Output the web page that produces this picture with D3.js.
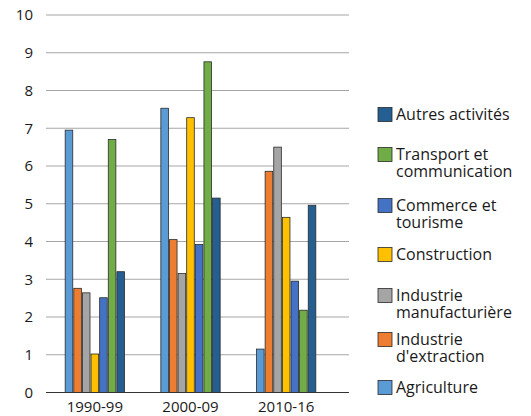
<!DOCTYPE html>
<html><head><meta charset="utf-8">
<script src="https://cdn.jsdelivr.net/npm/d3@7"></script>
<style>body{margin:0;background:#fff}svg{display:block}text{font-family:"Open Sans",sans-serif;fill:#1a1a1a}</style>
</head><body><svg id="c" width="531" height="416"></svg>
<script>
const periods = ["1990-99", "2000-09", "2010-16"];
const seriesNames = ["Agriculture", "Industrie d'extraction", "Industrie manufacturière", "Construction", "Commerce et tourisme", "Transport et communication", "Autres activités"];
const legendLines = [["Agriculture"], ["Industrie", "d'extraction"], ["Industrie", "manufacturière"], ["Construction"], ["Commerce et", "tourisme"], ["Transport et", "communication"], ["Autres activités"]];
const colors = ["#5b9bd5", "#ed7d31", "#a5a5a5", "#ffc000", "#4472c4", "#70ad47", "#255e91"];
const agriculture = [6.95, 7.53, 1.15];
const extraction = [2.76, 4.05, 5.86];
const manufacturiere = [2.64, 3.15, 6.5];
const construction = [1.02, 7.28, 4.64];
const commerce = [2.51, 3.92, 2.95];
const transport = [6.7, 8.76, 2.18];
const autres = [3.2, 5.15, 4.96];
const yTicks = [0,1,2,3,4,5,6,7,8,9,10];

const values = [agriculture, extraction, manufacturiere, construction, commerce, transport, autres];
const svg = d3.select("#c");
const y = d3.scaleLinear().domain([0, 10]).range([392.5, 15]);
const x0 = d3.scaleBand().domain(periods).range([47, 334]).paddingInner(0.38).paddingOuter(0.19);
const x1 = d3.scaleBand().domain(seriesNames).range([0, x0.bandwidth()]).paddingInner(0.12);

svg.append("g").selectAll("line").data(yTicks.filter(d => d > 0)).join("line")
  .attr("x1", 46).attr("x2", 349).attr("y1", d => y(d)).attr("y2", d => y(d))
  .attr("stroke", "#a6a6a6").attr("stroke-width", 1);
svg.append("g").selectAll("text").data(yTicks).join("text")
  .attr("x", 33).attr("y", d => y(d)).attr("dy", "0.35em").attr("text-anchor", "end")
  .attr("font-size", 15).text(d => d);

const g = svg.append("g");
periods.forEach((p, pi) => {
  seriesNames.forEach((s, si) => {
    const v = values[si][pi];
    g.append("rect")
      .attr("x", x0(p) + x1(s)).attr("width", x1.bandwidth())
      .attr("y", y(v)).attr("height", y(0) - y(v))
      .attr("fill", colors[si]).attr("stroke", "#2a2a2a").attr("stroke-width", 0.8);
  });
});
svg.append("line").attr("x1", 46).attr("x2", 349).attr("y1", y(0)).attr("y2", y(0))
  .attr("stroke", "#333").attr("stroke-width", 1.2);
svg.append("g").selectAll("text").data(periods).join("text")
  .attr("x", d => x0(d) + x0.bandwidth() / 2).attr("y", 412).attr("text-anchor", "middle")
  .attr("font-size", 15).text(d => d);

const legendY = [114.5, 154.5, 205.5, 254.5, 295.5, 339.5, 387.5];
const order = [6, 5, 4, 3, 2, 1, 0];
const lg = svg.append("g");
order.forEach((si, k) => {
  const cy = legendY[k];
  lg.append("rect").attr("x", 378).attr("y", cy - 7).attr("width", 14).attr("height", 14)
    .attr("fill", colors[si]).attr("stroke", "#2a2a2a").attr("stroke-width", 0.8);
  const t = lg.append("text").attr("font-size", 16);
  legendLines[si].forEach((line, li) => {
    t.append("tspan").attr("x", 396).attr("y", cy + li * 17).attr("dy", "0.35em").text(line);
  });
});
</script></body></html>
